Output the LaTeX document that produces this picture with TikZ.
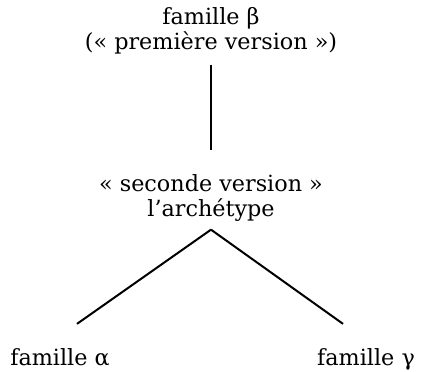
\documentclass[tikz,border=0pt]{standalone}
\usepackage{fontspec}
\setmainfont{DejaVu Serif}
\usetikzlibrary{positioning}

\begin{document}
\begin{tikzpicture}[
        x=1pt, y=-1pt,
        every node/.style={font=\fontsize{22.3}{25}\selectfont, align=center, inner sep=0pt},
        branch/.style={line width=2pt}
    ]
    \useasboundingbox (0,0) rectangle (423,372);

    \node (beta) at (211,31) {famille β\\(« première version »)};
    \node (arch) at (211,198) {« seconde version »\\l'archétype};
    \node[anchor=base] (alpha) at (60,365) {famille α};
    \node[anchor=base] (gamma) at (366,365) {famille γ};

    \coordinate[below=8pt of arch] (apex);

    \draw[branch] ([yshift=-10pt]beta.south) -- ([yshift=24pt]arch.north);
    \draw[branch] (apex) -- ([xshift=17pt,yshift=24pt]alpha.north);
    \draw[branch] (apex) -- ([xshift=-23pt,yshift=24pt]gamma.north);

\end{tikzpicture}
\end{document}
